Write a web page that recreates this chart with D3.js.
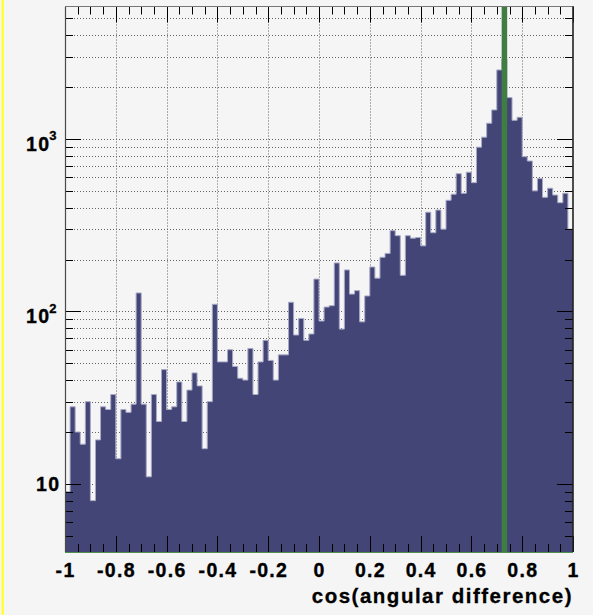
<!DOCTYPE html>
<html>
<head>
<meta charset="utf-8">
<script src="https://cdn.jsdelivr.net/npm/d3@7"></script>
<style>
  html, body { margin: 0; padding: 0; background: #f5f5f5; }
  svg { display: block; }
</style>
</head>
<body>
<script>
// ---------- data ----------
const xRange = [-1, 1];
const binWidth = 0.02;
const counts = [
  9, 28, 20, 17, 30, 8, 18, 28, 27, 33,
  14, 27, 26, 29, 128, 29, 11, 33, 23, 46,
  27, 28, 39, 23, 35, 44, 37, 16, 30, 110,
  51, 51, 60, 48, 41, 40, 61, 33, 51, 68,
  52, 40, 56, 56, 113, 73, 91, 68, 74, 154,
  88, 106, 108, 191, 79, 174, 126, 132, 87, 123,
  181, 156, 206, 217, 294, 275, 162, 275, 266, 268,
  240, 376, 286, 387, 300, 441, 478, 629, 484, 641,
  558, 896, 1024, 1233, 1473, 2512, 2900, 1737, 1282, 1335,
  789, 745, 500, 589, 459, 518, 473, 427, 484, 300
];
const xTickValues = [-1, -0.8, -0.6, -0.4, -0.2, 0, 0.2, 0.4, 0.6, 0.8, 1];
const xTickLabels = ["-1", "-0.8", "-0.6", "-0.4", "-0.2", "0", "0.2", "0.4", "0.6", "0.8", "1"];
const yDecades = [10, 100, 1000];
const yDecadeExp = ["", "2", "3"];
const yDomain = [4.03, 5860];
const cutValue = 0.73;
const xTitle = "cos(angular difference)";

// ---------- layout ----------
const W = 593, H = 615;
const L = 65, R = 573, T = 6.5, B = 552;

const svg = d3.select("body").append("svg").attr("width", W).attr("height", H);
svg.append("rect").attr("width", W).attr("height", H).attr("fill", "#f5f5f5");
svg.append("rect").attr("x", 1.5).attr("y", 0).attr("width", 2.5).attr("height", H).attr("fill", "#ffff3c");

const x = d3.scaleLinear().domain(xRange).range([L, R]);
const y = d3.scaleLog().domain(yDomain).range([B, T]);

const xMinor = d3.range(0, 41).map(i => xRange[0] + i * 0.05);
const yMinor = [];
[1, 10, 100, 1000].forEach(d => { for (let k = 1; k <= 9; k++) { const v = d * k; if (v >= yDomain[0] && v <= yDomain[1]) yMinor.push(v); } });

// ---------- grid ----------
const grid = svg.append("g").attr("stroke", "#333").attr("stroke-width", 1).attr("stroke-dasharray", "1,2").attr("opacity", 0.75);
xTickValues.filter(v => v > xRange[0] && v < xRange[1]).forEach(v => {
  const px = Math.round(x(v)) + 0.5;
  grid.append("line").attr("x1", px).attr("x2", px).attr("y1", T).attr("y2", B);
});
yMinor.forEach(v => {
  const py = Math.round(y(v)) + 0.5;
  grid.append("line").attr("x1", L).attr("x2", R).attr("y1", py).attr("y2", py);
});

// ---------- histogram ----------
const pts = counts.map((c, i) => ({ x0: xRange[0] + i * binWidth, c }));
pts.push({ x0: xRange[1], c: counts[counts.length - 1] });
const area = d3.area().curve(d3.curveStepAfter)
  .x(d => x(d.x0)).y0(B).y1(d => y(d.c));
svg.append("path").datum(pts).attr("d", area).attr("fill", "#434577");
const line = d3.line().curve(d3.curveStepAfter).x(d => x(d.x0)).y(d => y(d.c));
svg.append("path").datum(pts).attr("d", line).attr("fill", "none")
  .attr("stroke", "#a9a9c6").attr("stroke-width", 1);

// ---------- cut line ----------
svg.append("line").attr("x1", x(cutValue)).attr("x2", x(cutValue)).attr("y1", T).attr("y2", B)
  .attr("stroke", "#3f7d42").attr("stroke-width", 5.5);

// ---------- ticks ----------
const tk = svg.append("g").attr("stroke", "#000").attr("stroke-width", 1);
xMinor.forEach((v, i) => {
  const major = i % 4 === 0;
  const len = major ? 16 : 8;
  const px = Math.round(x(v)) + 0.5;
  tk.append("line").attr("x1", px).attr("x2", px).attr("y1", B).attr("y2", B - len);
  tk.append("line").attr("x1", px).attr("x2", px).attr("y1", T).attr("y2", T + len);
});
yMinor.forEach(v => {
  const major = yDecades.includes(v);
  const len = major ? 16 : 8;
  const py = Math.round(y(v)) + 0.5;
  tk.append("line").attr("x1", L).attr("x2", L + len).attr("y1", py).attr("y2", py);
  tk.append("line").attr("x1", R).attr("x2", R - len).attr("y1", py).attr("y2", py);
});

// ---------- frame ----------
svg.append("line").attr("x1", L + 0.5).attr("x2", L + 0.5).attr("y1", T).attr("y2", B).attr("stroke", "#4a4a4a").attr("stroke-width", 1.2);
svg.append("line").attr("x1", L).attr("x2", R).attr("y1", T).attr("y2", T).attr("stroke", "#777").attr("stroke-width", 1.2);
svg.append("line").attr("x1", R).attr("x2", R).attr("y1", T).attr("y2", B).attr("stroke", "#222").attr("stroke-width", 1.6);
svg.append("line").attr("x1", L).attr("x2", R).attr("y1", B + 0.5).attr("y2", B + 0.5).attr("stroke", "#4f8f4f").attr("stroke-width", 1.2);

// ---------- labels ----------
const font = "'Liberation Sans', Arial, sans-serif";
const xl = svg.append("g").attr("font-family", font).attr("font-weight", "bold").attr("font-size", 19.5)
  .attr("letter-spacing", 1.3).attr("fill", "#000").attr("stroke", "#000").attr("stroke-width", 0.35);
xTickValues.forEach((v, i) => {
  xl.append("text").attr("x", x(v) + 0.6).attr("y", 577).attr("text-anchor", "middle").text(xTickLabels[i]);
});
const yl = svg.append("g").attr("font-family", font).attr("font-weight", "bold").attr("fill", "#000")
  .attr("letter-spacing", 1.3).attr("stroke", "#000").attr("stroke-width", 0.35);
yDecades.forEach((v, i) => {
  const py = y(v);
  if (yDecadeExp[i] === "") {
    yl.append("text").attr("x", 60.3).attr("y", py + 7.5).attr("font-size", 19.5).attr("text-anchor", "end").text("10");
  } else {
    yl.append("text").attr("x", 50.3).attr("y", py + 12).attr("font-size", 19.5).attr("text-anchor", "end").text("10");
    yl.append("text").attr("x", 49.3).attr("y", py + 1.5).attr("font-size", 13).attr("text-anchor", "start").text(yDecadeExp[i]);
  }
});
svg.append("text").attr("x", 573).attr("y", 603).attr("text-anchor", "end")
  .attr("font-family", font).attr("font-weight", "bold").attr("font-size", 20.5).attr("letter-spacing", 1.5)
  .attr("fill", "#000").attr("stroke", "#000").attr("stroke-width", 0.3)
  .text(xTitle);
</script>
</body>
</html>
